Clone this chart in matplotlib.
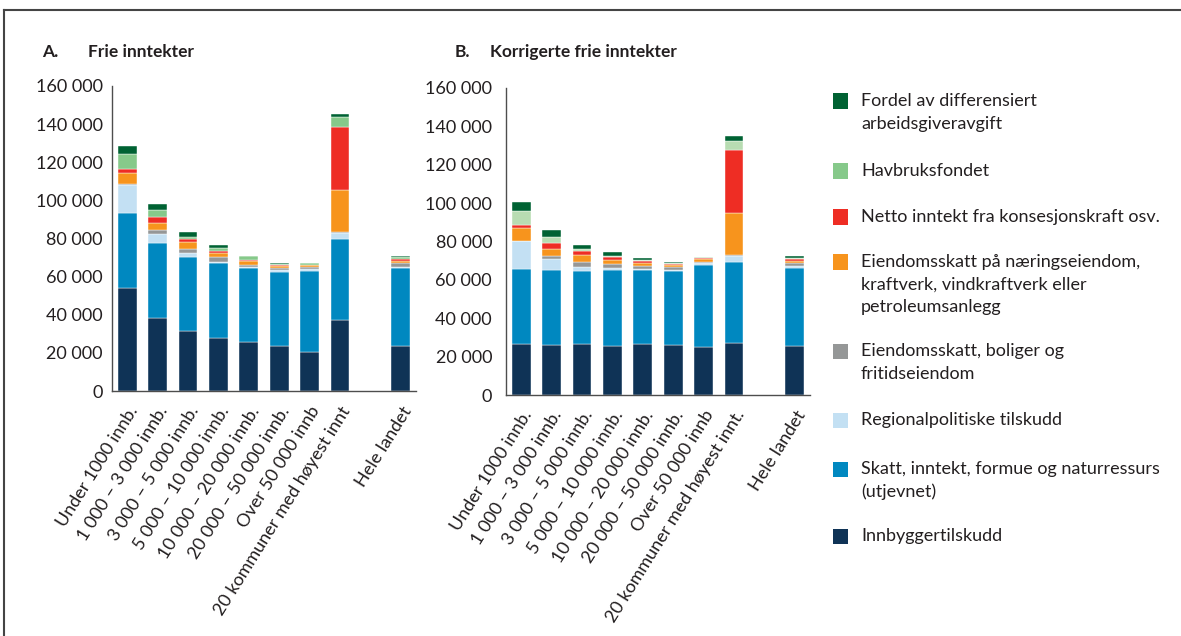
import matplotlib
matplotlib.use('Agg')
import matplotlib.pyplot as plt
from matplotlib.patches import Rectangle
from matplotlib.lines import Line2D
from matplotlib.ticker import FuncFormatter

plt.rcParams['font.family'] = ['Lato', 'DejaVu Sans']
TXT = '#231f20'

# Categories
labels_a = ['Under 1000 innb.', '1 000 – 3 000 innb.', '3 000 – 5 000 innb.',
            '5 000 – 10 000 innb.', '10 000 – 20 000 innb.', '20 000 – 50 000 innb.',
            'Over 50 000 innb', '20 kommuner med høyest innt', 'Hele landet']
labels_b = labels_a[:7] + ['20 kommuner med høyest innt.', 'Hele landet']
positions = [0, 1, 2, 3, 4, 5, 6, 7, 9]

series = ['Innbyggertilskudd',
          'Skatt, inntekt, formue og naturressurs\n(utjevnet)',
          'Regionalpolitiske tilskudd',
          'Eiendomsskatt, boliger og\nfritidseiendom',
          'Eiendomsskatt på næringseiendom,\nkraftverk, vindkraftverk eller\npetroleumsanlegg',
          'Netto inntekt fra konsesjonskraft osv.',
          'Havbruksfondet',
          'Fordel av differensiert\narbeidsgiveravgift']

# A. Frie inntekter (kr per innbygger), one list per series
a_innb = [54200, 38300, 31500, 27700, 25700, 23800, 20600, 37300, 23800]
a_skatt = [39400, 39200, 39000, 39300, 38700, 38800, 42600, 42500, 40600]
a_region = [14500, 4900, 1800, 900, 900, 900, 800, 3300, 900]
a_eskatt_bolig = [300, 2100, 2200, 2300, 800, 900, 900, 500, 1700]
a_eskatt_naering = [6200, 3500, 3900, 2100, 2100, 1400, 1100, 21900, 1400]
a_konsesjon = [1800, 3300, 1600, 1400, 700, 300, 300, 32900, 900]
a_havbruk = [7900, 3700, 1000, 1200, 1800, 700, 700, 5100, 1000]
a_aga = [4300, 3300, 2500, 1600, 300, 200, 200, 1700, 300]

# B. Korrigerte frie inntekter
b_innb = [26400, 26000, 26400, 25700, 26400, 26000, 25200, 27100, 25700]
b_skatt = [39200, 39300, 38300, 39200, 38500, 38700, 42700, 42200, 40600]
b_region = [14600, 5400, 2000, 1200, 900, 700, 900, 3300, 900]
b_eskatt_bolig = [300, 1700, 2600, 2300, 1400, 1100, 600, 500, 1400]
b_eskatt_naering = [6300, 3500, 3600, 1900, 1700, 1400, 1300, 21900, 1300]
b_konsesjon = [1900, 3400, 2100, 1600, 900, 300, 500, 32800, 900]
b_havbruk = [7100, 3300, 900, 800, 700, 700, 500, 4700, 700]
b_aga = [4900, 3500, 2200, 1800, 700, 300, 300, 2400, 900]

colors = ['#0f3356', '#0088c0', '#c3e0f3', '#959797',
          '#f7941d', '#ee2d24', '#86c98a', '#006233']
colors_b = colors[:6] + ['#b8dcb2', '#006233']

fig = plt.figure(figsize=(11.81, 6.36), dpi=100)
W, H = 1181, 636


def stacked(ax, data, cols, labels, tick_pad):
    bottom = [0] * len(positions)
    for vals, c in zip(data, cols):
        ax.bar(positions, vals, bottom=bottom, width=0.62, color=c,
               edgecolor='white', linewidth=0.3)
        bottom = [b + v for b, v in zip(bottom, vals)]
    ax.set_xlim(-0.5, 9.5)
    ax.set_ylim(0, 160000)
    ax.set_yticks(range(0, 160001, 20000))
    ax.yaxis.set_major_formatter(FuncFormatter(lambda v, p: f'{int(v):,}'.replace(',', ' ')))
    ax.set_xticks(positions)
    ax.set_xticklabels(labels, rotation=58, ha='right', va='top', rotation_mode='anchor')
    for s in ['top', 'right']:
        ax.spines[s].set_visible(False)
    for s in ['left', 'bottom']:
        ax.spines[s].set_color('#4d4d4d')
        ax.spines[s].set_linewidth(1.0)
    ax.tick_params(axis='y', length=0, labelsize=13, pad=tick_pad, labelcolor=TXT)
    ax.tick_params(axis='x', length=0, labelsize=13, pad=9, labelcolor=TXT)


axA = fig.add_axes([112 / W, 1 - 391 / H, (416 - 112) / W, (391 - 86) / H])
axB = fig.add_axes([506 / W, 1 - 395 / H, (810 - 506) / W, (395 - 88) / H])

stacked(axA, [a_innb, a_skatt, a_region, a_eskatt_bolig, a_eskatt_naering,
              a_konsesjon, a_havbruk, a_aga], colors, labels_a, 6.5)
stacked(axB, [b_innb, b_skatt, b_region, b_eskatt_bolig, b_eskatt_naering,
              b_konsesjon, b_havbruk, b_aga], colors_b, labels_b, 10)

# Panel titles
for x, t in [(42, 'A.'), (88, 'Frie inntekter'), (455, 'B.'), (490, 'Korrigerte frie inntekter')]:
    fig.text(x / W, 1 - 52 / H, t, fontsize=12.5, fontweight='bold', color=TXT, va='center')

# Legend, top entry first, square aligned with first text line
legend_y = [101, 171, 217, 262, 351, 420, 469, 536]
for name, c, y in zip(series[::-1], colors[::-1], legend_y):
    fig.patches.append(Rectangle((833 / W, 1 - (y + 7.5) / H), 15 / W, 15 / H,
                                 transform=fig.transFigure, facecolor=c,
                                 edgecolor='none'))
    for i, line in enumerate(name.split('\n')):
        fig.text(861 / W, 1 - (y + i * 22.7) / H, line, fontsize=13,
                 color=TXT, va='center')

# Frame
fig.lines.append(Line2D([4 / W, 1], [1 - 10 / H, 1 - 10 / H], transform=fig.transFigure,
                        color='#444444', lw=1.5))
fig.lines.append(Line2D([4 / W, 4 / W], [0, 1 - 10 / H], transform=fig.transFigure,
                        color='#444444', lw=1.5))

fig.savefig('out.png', dpi=100)
